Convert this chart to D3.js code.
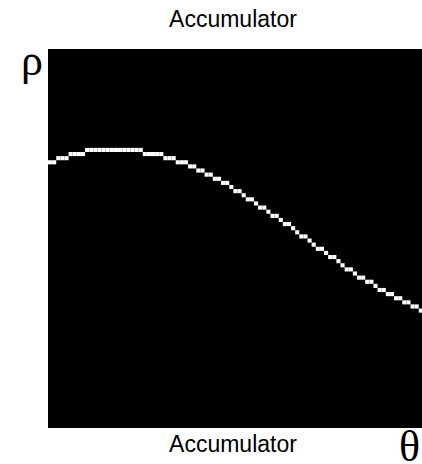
<!DOCTYPE html>
<html>
<head>
<meta charset="utf-8">
<script src="https://cdn.jsdelivr.net/npm/d3@7"></script>
<style>
  html, body { margin: 0; padding: 0; background: #fff; }
  svg { display: block; }
</style>
</head>
<body>
<svg id="chart" width="422" height="464"></svg>
<script>
// Accumulator grid size (theta columns x rho rows)
const gridSize = 92;
// rho bin (row index, 0 = top) for each theta column
const rhoBins = [
  27, 27, 26, 26, 26, 25, 25, 25, 25, 24,
  24, 24, 24, 24, 24, 24, 24, 24, 24, 24,
  24, 24, 24, 25, 25, 25, 25, 25, 26, 26,
  26, 27, 27, 27, 28, 28, 29, 29, 30, 30,
  31, 31, 32, 32, 33, 34, 34, 35, 36, 36,
  37, 38, 38, 39, 40, 40, 41, 42, 42, 43,
  44, 45, 45, 46, 47, 48, 48, 49, 50, 50,
  51, 52, 53, 53, 54, 55, 55, 56, 56, 57,
  58, 58, 59, 59, 60, 60, 61, 61, 62, 62,
  63
];
const titleText = "Accumulator";
const xLabelText = "Accumulator";
const rhoSymbol = "ρ";
const thetaSymbol = "θ";

const svg = d3.select("#chart");
const plotLeft = 48, plotTop = 49, plotSide = 379;

const x = d3.scaleBand().domain(d3.range(gridSize)).range([plotLeft, plotLeft + plotSide]).padding(0);
const y = d3.scaleBand().domain(d3.range(gridSize)).range([plotTop, plotTop + plotSide]).padding(0);

svg.append("rect")
  .attr("x", plotLeft).attr("y", plotTop)
  .attr("width", plotSide).attr("height", plotSide)
  .attr("fill", "#000");

svg.append("g")
  .selectAll("rect")
  .data(rhoBins.map((r, i) => ({ col: i, row: r })))
  .join("rect")
  .attr("x", d => x(d.col))
  .attr("y", d => y(d.row))
  .attr("width", x.bandwidth())
  .attr("height", y.bandwidth())
  .attr("fill", "#fff");

svg.append("text")
  .attr("x", 233).attr("y", 27)
  .attr("text-anchor", "middle")
  .attr("font-family", "Liberation Sans, Arial, sans-serif")
  .attr("font-size", 23)
  .attr("fill", "#000")
  .text(titleText);

svg.append("text")
  .attr("x", 233).attr("y", 452)
  .attr("text-anchor", "middle")
  .attr("font-family", "Liberation Sans, Arial, sans-serif")
  .attr("font-size", 23)
  .attr("fill", "#000")
  .text(xLabelText);

svg.append("text")
  .attr("x", 21).attr("y", 75)
  .attr("font-family", "Liberation Serif, Times New Roman, serif")
  .attr("font-size", 44)
  .attr("fill", "#000")
  .text(rhoSymbol);

svg.append("text")
  .attr("x", 399).attr("y", 461)
  .attr("font-family", "Liberation Serif, Times New Roman, serif")
  .attr("font-size", 44)
  .attr("fill", "#000")
  .text(thetaSymbol);
</script>
</body>
</html>
